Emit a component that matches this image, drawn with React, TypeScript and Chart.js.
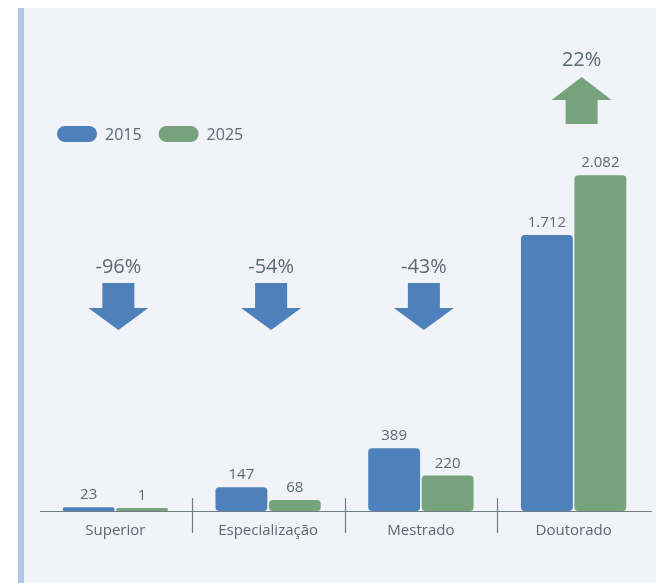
import React, { useEffect, useRef } from "react";
import { Chart, registerables } from "chart.js";

Chart.register(...registerables);

const categories = ["Superior", "Especialização", "Mestrado", "Doutorado"];
const seriesLabels = ["2015", "2025"];
const values2015 = [23, 147, 389, 1712];
const values2025 = [1, 68, 220, 2082];
const changes = [-96, -54, -43, 22];

const BLUE = "#4e80bc";
const GREEN = "#76a37b";
const TEXT = "#5b6873";
const AXIS = "#6f7d88";
const PANEL = "#f2f3f8";
const STRIPE = "#b3c5e4";
const FONT = "'Open Sans', sans-serif";

function fmt(v: number): string {
  return String(v).replace(/\B(?=(\d{3})+(?!\d))/g, ".");
}

const decorPlugin = {
  id: "decor",
  beforeDraw(chart: any) {
    const ctx = chart.ctx;
    const W = chart.width;
    const H = chart.height;
    ctx.save();
    ctx.fillStyle = "#ffffff";
    ctx.fillRect(0, 0, W, H);
    ctx.fillStyle = PANEL;
    ctx.fillRect(18, 8, W - 19, H - 8);
    ctx.fillStyle = STRIPE;
    ctx.fillRect(18, 8, 6, H - 8);
    ctx.restore();
  },
  afterDatasetsDraw(chart: any) {
    const ctx = chart.ctx;
    const xs = chart.scales.x;
    const ys = chart.scales.y;
    const axisY = ys.getPixelForValue(0);
    ctx.save();

    // axis line
    ctx.strokeStyle = AXIS;
    ctx.lineWidth = 1.2;
    ctx.beginPath();
    ctx.moveTo(40, axisY + 0.5);
    ctx.lineTo(652, axisY + 0.5);
    ctx.stroke();

    // category dividers
    for (let i = 0; i < categories.length - 1; i++) {
      const bx = Math.round((xs.getPixelForValue(i) + xs.getPixelForValue(i + 1)) / 2) + 0.5;
      ctx.beginPath();
      ctx.moveTo(bx, axisY - 13);
      ctx.lineTo(bx, axisY + 22);
      ctx.stroke();
    }

    // value labels
    ctx.fillStyle = TEXT;
    ctx.font = `15px ${FONT}`;
    ctx.textAlign = "center";
    ctx.textBaseline = "alphabetic";
    chart.data.datasets.forEach((ds: any, di: number) => {
      const meta = chart.getDatasetMeta(di);
      meta.data.forEach((el: any, j: number) => {
        ctx.fillText(fmt(ds.data[j]), el.x, el.y - 8);
      });
    });

    // change arrows
    changes.forEach((c, i) => {
      const cx = xs.getPixelForValue(i);
      const up = c >= 0;
      const label = c + "%";
      ctx.fillStyle = TEXT;
      ctx.font = `20px ${FONT}`;
      ctx.textAlign = "center";
      ctx.textBaseline = "middle";
      const shaftW = 32;
      const headW = 60;
      if (up) {
        const ax = cx + 8;
        ctx.fillText(label, ax, 60);
        ctx.fillStyle = GREEN;
        ctx.beginPath();
        ctx.moveTo(ax, 77);
        ctx.lineTo(ax + headW / 2, 100);
        ctx.lineTo(ax + shaftW / 2, 100);
        ctx.lineTo(ax + shaftW / 2, 124);
        ctx.lineTo(ax - shaftW / 2, 124);
        ctx.lineTo(ax - shaftW / 2, 100);
        ctx.lineTo(ax - headW / 2, 100);
        ctx.closePath();
        ctx.fill();
      } else {
        const ax = cx + 3;
        ctx.fillText(label, ax, 267);
        ctx.fillStyle = BLUE;
        ctx.beginPath();
        ctx.moveTo(ax - shaftW / 2, 283);
        ctx.lineTo(ax + shaftW / 2, 283);
        ctx.lineTo(ax + shaftW / 2, 308);
        ctx.lineTo(ax + headW / 2, 308);
        ctx.lineTo(ax, 330);
        ctx.lineTo(ax - headW / 2, 308);
        ctx.lineTo(ax - shaftW / 2, 308);
        ctx.closePath();
        ctx.fill();
      }
    });

    // legend
    let lx = 57;
    const ly = 134;
    ctx.font = `16px ${FONT}`;
    ctx.textAlign = "left";
    ctx.textBaseline = "middle";
    chart.data.datasets.forEach((ds: any) => {
      ctx.fillStyle = ds.backgroundColor;
      ctx.beginPath();
      ctx.roundRect(lx, ly - 8, 40, 16, 8);
      ctx.fill();
      ctx.fillStyle = TEXT;
      ctx.fillText(ds.label, lx + 48, ly + 1);
      lx += 48 + ctx.measureText(ds.label).width + 17;
    });

    ctx.restore();
  },
};

export default function App() {
  const canvasRef = useRef<HTMLCanvasElement | null>(null);

  useEffect(() => {
    const canvas = canvasRef.current;
    if (!canvas) return;
    const chart = new Chart(canvas, {
      type: "bar",
      data: {
        labels: categories,
        datasets: [
          {
            label: seriesLabels[0],
            data: values2015,
            backgroundColor: BLUE,
            borderRadius: 4,
            borderSkipped: false,
            minBarLength: 3,
            categoryPercentage: 0.7,
            barPercentage: 0.97,
          },
          {
            label: seriesLabels[1],
            data: values2025,
            backgroundColor: GREEN,
            borderRadius: 4,
            borderSkipped: false,
            minBarLength: 3,
            categoryPercentage: 0.7,
            barPercentage: 0.97,
          },
        ],
      },
      options: {
        responsive: false,
        animation: false,
        devicePixelRatio: 1,
        layout: { padding: { left: 39, right: 7, top: 124, bottom: 32 } },
        plugins: {
          legend: { display: false },
          tooltip: { enabled: false },
          title: { display: false },
        },
        scales: {
          x: {
            grid: { display: false, drawTicks: false },
            border: { display: false },
            ticks: {
              color: TEXT,
              font: { family: FONT, size: 15 },
              padding: 11,
            },
          },
          y: {
            display: false,
            min: 0,
            max: 2400,
          },
        },
      },
      plugins: [decorPlugin],
    });
    return () => chart.destroy();
  }, []);

  return (
    <div style={{ position: "absolute", left: 0, top: 0, width: 657, height: 583 }}>
      <canvas ref={canvasRef} width={657} height={583} style={{ display: "block" }} />
    </div>
  );
}
